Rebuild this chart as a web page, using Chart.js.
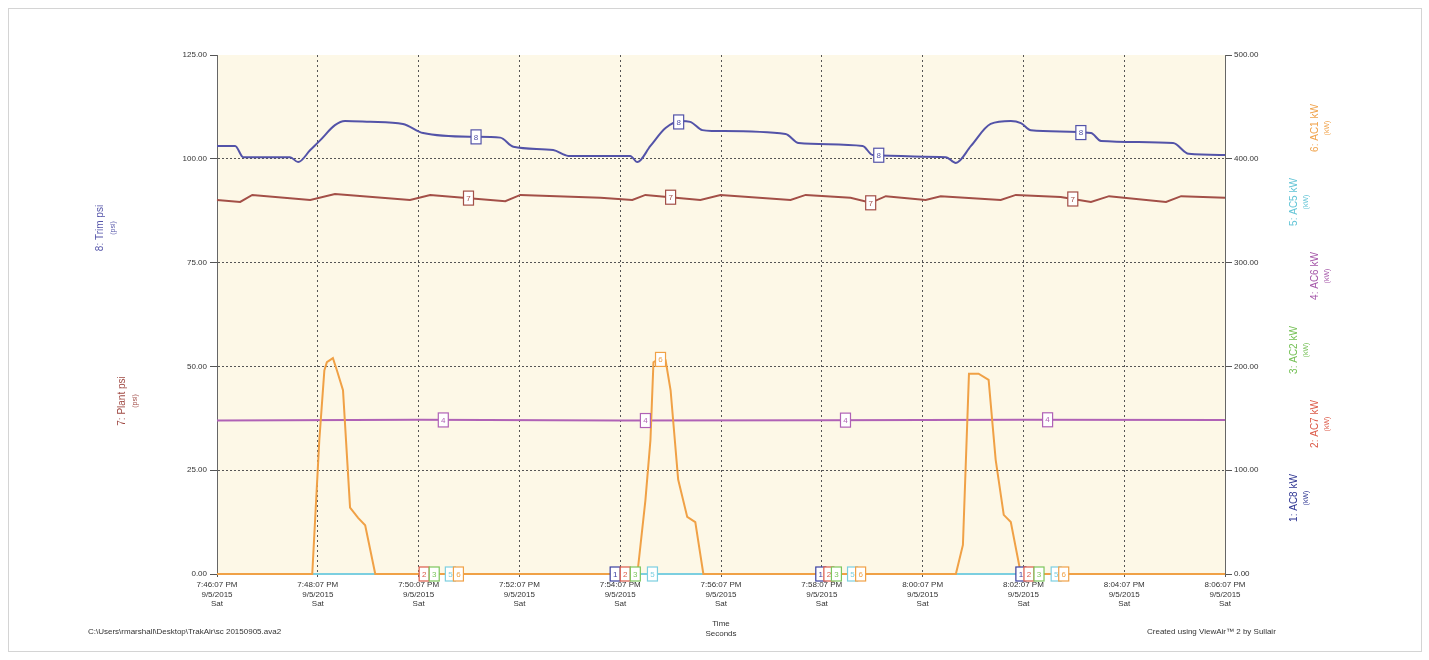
<!DOCTYPE html>
<html>
<head>
<meta charset="utf-8">
<script src="https://cdn.jsdelivr.net/npm/chart.js@4/dist/chart.umd.min.js"></script>
<style>
  html, body { margin: 0; padding: 0; background: #fff; overflow: hidden; }
  #frame { position: absolute; left: 8px; top: 8px; width: 1412px; height: 642px; border: 1px solid #d4d4d4; pointer-events: none; }
  canvas { position: absolute; left: 0; top: 0; }
</style>
</head>
<body>
<canvas id="trendChart" width="1429" height="660"></canvas>
<div id="frame"></div>
<script>
// x values are minutes after 7:46:07 PM
const tickTimes = ['7:46:07 PM', '7:48:07 PM', '7:50:07 PM', '7:52:07 PM', '7:54:07 PM', '7:56:07 PM',
                   '7:58:07 PM', '8:00:07 PM', '8:02:07 PM', '8:04:07 PM', '8:06:07 PM'];
const tickDate = '9/5/2015';
const tickDay = 'Sat';

const trimMin = [0, 0.36, 0.52, 1.45, 1.61, 1.85, 2.05, 2.34, 2.54, 3.04, 3.69, 4.09, 5.08, 5.62, 5.88, 6.67, 6.97,
                 8.20, 8.34, 8.60, 8.90, 9.20, 9.39, 9.63, 9.83, 11.28, 11.54, 12.81, 13.01, 14.46, 14.66, 14.96,
                 15.35, 15.75, 15.95, 16.15, 17.34, 17.54, 18.97, 19.28, 20];
const trimPsi = [103.1, 103.1, 100.4, 100.4, 99.2, 102.1, 104.5, 108.1, 109.1, 108.9, 108.4, 106.2, 105.3, 105.1, 102.9, 102.1, 100.7,
                 100.7, 99.2, 103.1, 107.4, 109.1, 108.9, 106.9, 106.7, 106.0, 103.8, 103.1, 100.9, 100.4, 99.0, 103.1,
                 108.4, 109.1, 108.6, 106.9, 106.2, 104.3, 103.8, 101.2, 100.9];

const plantMin = [0, 0.46, 0.70, 1.85, 2.34, 3.83, 4.23, 5.72, 6.02, 7.61, 8.24, 8.50, 9.59, 9.99, 11.38, 11.68,
                  12.57, 12.97, 13.27, 14.06, 14.36, 15.55, 15.85, 16.74, 17.34, 17.70, 18.83, 19.13, 20];
const plantPsi = [90.1, 89.6, 91.3, 90.1, 91.5, 90.1, 91.3, 89.8, 91.3, 90.6, 90.1, 91.3, 90.1, 91.3, 90.1, 91.3,
                  90.6, 89.4, 91.0, 90.1, 91.0, 90.1, 91.3, 90.8, 89.6, 91.0, 89.6, 91.0, 90.6];

const ac1Min = [0, 1.89, 2.03, 2.13, 2.18, 2.30, 2.38, 2.50, 2.64, 2.80, 2.94, 3.14,
                8.34, 8.50, 8.60, 8.66, 8.76, 8.90, 9.00, 9.15, 9.33, 9.49, 9.65,
                14.66, 14.80, 14.92, 15.11, 15.31, 15.45, 15.61, 15.75, 15.95, 20];
const ac1Kw = [0, 0, 129, 196, 204, 208, 196, 177, 64, 54, 47, 0,
               0, 71, 129, 204, 207, 206, 177, 91, 55, 50, 0,
               0, 28, 193, 193, 187, 110, 57, 50, 0, 0];

const ac6Min = [0, 4, 8, 12, 16, 20];
const ac6Kw = [148, 148.5, 147.8, 148.2, 148.6, 148.3];

const flatMin = [0, 20];
const ac5Kw = [0, 0];
const ac2Kw = [0, 0];
const ac7Kw = [0, 0];
const ac8Kw = [0, 0];

// numbered tags along each trace (minutes)
const trimTags = [5.14, 9.16, 13.13, 17.14];
const plantTags = [4.99, 9.00, 12.97, 16.98];
const ac6Tags = [4.49, 8.50, 12.47, 16.48];
const ac1Tags = [4.79, 8.80, 12.77, 16.80];
const ac5Tags = [4.63, 8.64, 12.61, 16.65];
const ac2Tags = [4.31, 8.30, 12.29, 16.31];
const ac7Tags = [4.11, 8.10, 12.14, 16.11];
const ac8Tags = [7.90, 11.98, 15.95];

const leftTitles = ['8: Trim psi', '7: Plant psi'];
const rightTitles = ['6: AC1 kW', '5: AC5 kW', '4: AC6 kW', '3: AC2 kW', '2: AC7 kW', '1: AC8 kW'];

const pts = (xs, ys) => xs.map((x, i) => ({ x: x, y: ys[i] }));

function series(label, num, xs, ys, axis, color, tags) {
    return {
        label: label, tag: num, tags: tags,
        data: pts(xs, ys), yAxisID: axis,
        borderColor: color, backgroundColor: color,
        borderWidth: 2, pointRadius: 0, tension: 0, fill: false, clip: 5
    };
}

const FONT = '"Liberation Sans", Arial, sans-serif';

function valueAt(data, t) {
    for (let i = 0; i < data.length - 1; i++) {
        const a = data[i], b = data[i + 1];
        if (t >= a.x && t <= b.x) {
            return a.y + (b.y - a.y) * (t - a.x) / (b.x - a.x);
        }
    }
    return data[data.length - 1].y;
}

function vtext(ctx, text, x, y, color, size) {
    ctx.save();
    ctx.translate(x, y);
    ctx.rotate(-Math.PI / 2);
    ctx.fillStyle = color;
    ctx.font = size + 'px ' + FONT;
    ctx.textAlign = 'center';
    ctx.textBaseline = 'middle';
    ctx.fillText(text, 0, 0);
    ctx.restore();
}

const leftPos = [{ x: 100, y: 228, c: '#5656aa' }, { x: 122, y: 401, c: '#a04a44' }];
const rightPos = [
    { x: 1315, y: 128, c: '#f0a24a' },
    { x: 1294, y: 202, c: '#62c4d6' },
    { x: 1315, y: 276, c: '#a455a8' },
    { x: 1294, y: 350, c: '#74c055' },
    { x: 1315, y: 424, c: '#dc5a48' },
    { x: 1294, y: 498, c: '#2e3592' }
];

const decor = {
    id: 'decor',
    beforeDatasetsDraw(chart) {
        const { ctx, chartArea: a } = chart;
        ctx.save();
        ctx.globalCompositeOperation = 'destination-over';
        ctx.fillStyle = '#fdf8e7';
        ctx.fillRect(a.left, a.top, a.right - a.left, a.bottom - a.top);
        ctx.restore();
    },
    afterDatasetsDraw(chart) {
        const ctx = chart.ctx;
        const xs = chart.scales.x;
        chart.data.datasets.slice().reverse().forEach((ds) => {
            const ys = chart.scales[ds.yAxisID];
            ds.tags.forEach((t) => {
                const px = xs.getPixelForValue(t);
                const py = ys.getPixelForValue(valueAt(ds.data, t));
                ctx.save();
                ctx.fillStyle = '#ffffff';
                ctx.strokeStyle = ds.borderColor;
                ctx.lineWidth = 1.2;
                ctx.fillRect(px - 5, py - 7, 10, 14);
                ctx.strokeRect(px - 5, py - 7, 10, 14);
                ctx.fillStyle = ds.borderColor;
                ctx.font = '8px ' + FONT;
                ctx.textAlign = 'center';
                ctx.textBaseline = 'middle';
                ctx.fillText(String(ds.tag), px, py + 0.5);
                ctx.restore();
            });
        });
    },
    afterDraw(chart) {
        const ctx = chart.ctx;
        leftTitles.forEach((t, i) => {
            const p = leftPos[i];
            vtext(ctx, t, p.x, p.y, p.c, 10);
            vtext(ctx, '(psi)', p.x + 13, p.y, p.c, 7);
        });
        rightTitles.forEach((t, i) => {
            const p = rightPos[i];
            vtext(ctx, t, p.x, p.y, p.c, 10);
            vtext(ctx, '(kW)', p.x + 12, p.y, p.c, 7);
        });
        ctx.save();
        ctx.fillStyle = '#333';
        ctx.font = '8px ' + FONT;
        ctx.textBaseline = 'middle';
        ctx.textAlign = 'left';
        ctx.fillText('C:\\Users\\rmarshall\\Desktop\\TrakAir\\sc 20150905.ava2', 88, 632);
        ctx.fillText('Created using ViewAir\u2122 2 by Sullair', 1147, 632);
        ctx.restore();
    }
};

const tickFont = { family: FONT, size: 8 };

const trimSet = series('8: Trim psi', 8, trimMin, trimPsi, 'y', '#5353a8', trimTags);
trimSet.cubicInterpolationMode = 'monotone';

new Chart(document.getElementById('trendChart'), {
    type: 'line',
    data: {
        datasets: [
            series('6: AC1 kW', 6, ac1Min, ac1Kw, 'y2', '#f0a146', ac1Tags),
            trimSet,
            series('7: Plant psi', 7, plantMin, plantPsi, 'y', '#a34f47', plantTags),
            series('4: AC6 kW', 4, ac6Min, ac6Kw, 'y2', '#b062b6', ac6Tags),
            series('5: AC5 kW', 5, flatMin, ac5Kw, 'y2', '#7ccfe0', ac5Tags),
            series('3: AC2 kW', 3, flatMin, ac2Kw, 'y2', '#7cc65c', ac2Tags),
            series('2: AC7 kW', 2, flatMin, ac7Kw, 'y2', '#dc5a48', ac7Tags),
            series('1: AC8 kW', 1, flatMin, ac8Kw, 'y2', '#3a40a0', ac8Tags)
        ]
    },
    options: {
        responsive: false,
        animation: false,
        layout: { padding: { top: 55, left: 0, right: 0, bottom: 0 } },
        plugins: { legend: { display: false }, tooltip: { enabled: false } },
        scales: {
            x: {
                type: 'linear', min: 0, max: 20,
                afterFit: (s) => { s.height = 86; },
                ticks: {
                    stepSize: 2, autoSkip: false, maxRotation: 0, padding: 3,
                    color: '#333', font: tickFont,
                    callback: (v) => [tickTimes[Math.round(v / 2)], tickDate, tickDay]
                },
                grid: { color: '#555', tickColor: '#555', lineWidth: 1, tickLength: 3, tickBorderDash: [] },
                border: { color: '#666', width: 1, dash: [2, 3] },
                title: {
                    display: true, text: ['Time', 'Seconds'], color: '#333',
                    font: { family: FONT, size: 8, lineHeight: 1.25 },
                    padding: { top: 0, bottom: 21 }
                }
            },
            y: {
                position: 'left', min: 0, max: 125,
                afterFit: (s) => { s.width = 217; },
                ticks: { stepSize: 25, padding: 3, color: '#333', font: tickFont, callback: (v) => v.toFixed(2) },
                grid: {
                    color: (c) => (c.tick && c.tick.value === 125 ? 'rgba(0,0,0,0)' : '#555'),
                    tickColor: '#555', lineWidth: 1, tickLength: 7, tickBorderDash: []
                },
                border: { color: '#666', width: 1, dash: [2, 2] }
            },
            y2: {
                position: 'right', min: 0, max: 500,
                afterFit: (s) => { s.width = 204; },
                ticks: { stepSize: 100, padding: 2, color: '#333', font: tickFont, callback: (v) => v.toFixed(2) },
                grid: { color: '#555', tickColor: '#555', lineWidth: 1, tickLength: 7, drawOnChartArea: false, tickBorderDash: [] },
                border: { color: '#666', width: 1 }
            }
        }
    },
    plugins: [decor]
});
</script>
</body>
</html>
